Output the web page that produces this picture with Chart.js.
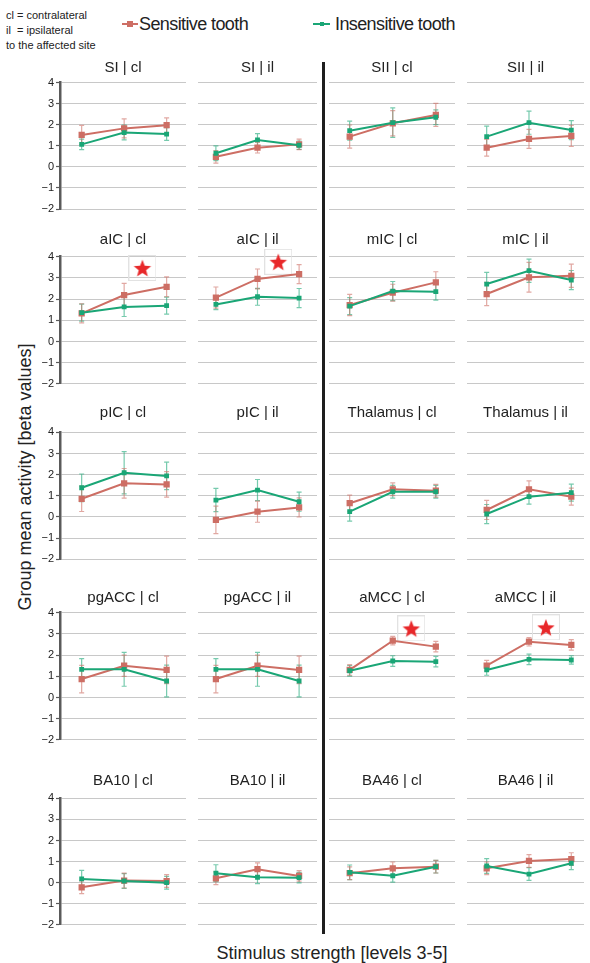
<!DOCTYPE html>
<html lang="en">
<head>
<meta charset="UTF-8">
<title>Group mean activity by stimulus strength</title>
<script src="https://cdn.jsdelivr.net/npm/chart.js"></script>
<style>
  body {
    margin: 0;
    width: 590px;
    height: 963px;
    position: relative;
    overflow: hidden;
    background: #fff;
    color: #222;
    font-family: "Liberation Sans", Arial, sans-serif;
  }
  canvas { position: absolute; }
  .note { position: absolute; left: 6px; top: 8px; font-size: 11px; line-height: 15px; }
  .legend { position: absolute; top: 13px; font-size: 18px; line-height: 22px; letter-spacing: -0.6px; white-space: nowrap; }
  .mark { position: absolute; top: 23px; height: 2px; }
  .mark i { position: absolute; left: 50%; top: 50%; transform: translate(-50%, -50%); }
  .divider { position: absolute; left: 321.5px; top: 62px; width: 3px; height: 872px; background: #1e1e1e; z-index: 5; }
  .ytitle { position: absolute; left: 25px; top: 477px; transform: translate(-50%, -50%) rotate(-90deg); font-size: 18px; white-space: nowrap; }
  .xtitle { position: absolute; left: 332px; top: 953px; transform: translate(-50%, -50%); font-size: 18px; white-space: nowrap; }
</style>
</head>
<body>
  <div class="note">cl = contralateral<br>il &nbsp;= ipsilateral<br>to the affected site</div>

  <div class="mark" style="left:122px;width:16px;background:#cd6e64"><i style="width:6px;height:6px;background:#cd6e64"></i></div>
  <div class="legend" style="left:139px">Sensitive tooth</div>
  <div class="mark" style="left:313px;width:17px;background:#1aa676"><i style="width:4px;height:4px;background:#1aa676"></i></div>
  <div class="legend" style="left:335px">Insensitive tooth</div>

  <div class="divider"></div>
  <div class="ytitle">Group mean activity [beta values]</div>
  <div class="xtitle">Stimulus strength [levels 3-5]</div>

<script>
// data
const levels = [3, 4, 5];
const panelTitles = [
  'SI | cl', 'SI | il', 'SII | cl', 'SII | il',
  'aIC | cl', 'aIC | il', 'mIC | cl', 'mIC | il',
  'pIC | cl', 'pIC | il', 'Thalamus | cl', 'Thalamus | il',
  'pgACC | cl', 'pgACC | il', 'aMCC | cl', 'aMCC | il',
  'BA10 | cl', 'BA10 | il', 'BA46 | cl', 'BA46 | il'
];
const sensitive = [
  [1.52, 1.83, 1.98], [0.48, 0.91, 1.07], [1.44, 2.07, 2.47], [0.91, 1.33, 1.47],
  [1.33, 2.19, 2.58], [2.07, 2.95, 3.18], [1.72, 2.30, 2.79], [2.24, 3.03, 3.10],
  [0.86, 1.59, 1.54], [-0.14, 0.25, 0.45], [0.65, 1.31, 1.24], [0.33, 1.31, 0.96],
  [0.87, 1.50, 1.30], [0.87, 1.50, 1.30], [1.30, 2.68, 2.40], [1.50, 2.63, 2.48],
  [-0.22, 0.10, 0.08], [0.21, 0.64, 0.32], [0.45, 0.68, 0.76], [0.68, 1.03, 1.12]
];
const sensitiveErr = [
  [0.45, 0.45, 0.35], [0.30, 0.25, 0.25], [0.55, 0.60, 0.55], [0.40, 0.45, 0.50],
  [0.45, 0.55, 0.47], [0.50, 0.47, 0.45], [0.50, 0.40, 0.50], [0.55, 0.70, 0.55],
  [0.60, 0.70, 0.60], [0.65, 0.50, 0.45], [0.38, 0.30, 0.30], [0.45, 0.40, 0.40],
  [0.65, 0.50, 0.65], [0.65, 0.50, 0.65], [0.25, 0.20, 0.25], [0.25, 0.20, 0.25],
  [0.30, 0.35, 0.30], [0.30, 0.30, 0.25], [0.30, 0.30, 0.30], [0.30, 0.30, 0.30]
];
const insensitive = [
  [1.07, 1.63, 1.56], [0.65, 1.28, 1.03], [1.72, 2.10, 2.36], [1.44, 2.10, 1.75],
  [1.36, 1.63, 1.69], [1.75, 2.11, 2.05], [1.67, 2.38, 2.35], [2.71, 3.34, 2.90],
  [1.38, 2.09, 1.94], [0.80, 1.27, 0.72], [0.25, 1.19, 1.19], [0.14, 0.96, 1.15],
  [1.33, 1.33, 0.78], [1.33, 1.33, 0.78], [1.26, 1.72, 1.69], [1.30, 1.80, 1.77],
  [0.18, 0.08, 0.00], [0.45, 0.26, 0.24], [0.49, 0.33, 0.76], [0.79, 0.41, 0.92]
];
const insensitiveErr = [
  [0.25, 0.35, 0.30], [0.35, 0.30, 0.20], [0.45, 0.70, 0.35], [0.50, 0.55, 0.45],
  [0.40, 0.45, 0.40], [0.25, 0.40, 0.45], [0.40, 0.45, 0.40], [0.55, 0.55, 0.45],
  [0.65, 1.00, 0.65], [0.55, 0.50, 0.45], [0.45, 0.30, 0.30], [0.45, 0.35, 0.40],
  [0.50, 0.80, 0.75], [0.50, 0.80, 0.75], [0.25, 0.25, 0.25], [0.25, 0.25, 0.20],
  [0.40, 0.35, 0.30], [0.40, 0.30, 0.25], [0.35, 0.30, 0.30], [0.35, 0.30, 0.30]
];
// significant differences (star markers)
const starPanels = ['aIC | cl', 'aIC | il', 'aMCC | cl', 'aMCC | il'];
const starLevel = [4.43, 4.5, 4.43, 4.4];
const starValue = [3.47, 3.76, 3.26, 3.31];

// layout of the grid
const rowTop = [82.7, 256.7, 432.3, 612.7, 798.3];   // pixel of y = 4
const rowUnit = [21.05, 21.2, 21.17, 21.2, 21.1];   // pixels per unit
const titleGap = [14.5, 16.5, 19.5, 15, 17.5];
const colLeft = [0, 192, 323, 461];
const colRight = [192, 323, 461, 590];
const colMin = [2.49, 2.57, 2.52, 2.535];
const colMax = [5.456, 5.43, 5.445, 5.30];

const red = '#cd6e64';
const green = '#1aa676';

Chart.defaults.font.family = '"Liberation Sans", Arial, sans-serif';
Chart.defaults.color = '#222';

function makeStar() {
  const c = document.createElement('canvas');
  c.width = 28; c.height = 26;
  const g = c.getContext('2d');
  g.strokeStyle = '#e2e2e2';
  g.lineWidth = 1;
  g.strokeRect(0.5, 0.5, 27, 25);
  g.fillStyle = '#e8282a';
  g.beginPath();
  for (let k = 0; k < 10; k++) {
    const r = k % 2 ? 3.9 : 9.2;
    const a = -Math.PI / 2 + k * Math.PI / 5;
    g.lineTo(14 + r * Math.cos(a), 14 + r * Math.sin(a));
  }
  g.closePath();
  g.fill();
  return c;
}
const starImg = makeStar();

// vertical error bars drawn from the y scale
const errorBars = {
  id: 'errorBars',
  beforeDatasetsDraw(chart) {
    const ctx = chart.ctx, y = chart.scales.y;
    chart.data.datasets.forEach((ds, i) => {
      if (!ds.errors) return;
      const meta = chart.getDatasetMeta(i);
      ctx.save();
      ctx.strokeStyle = ds.errorColor;
      ctx.lineWidth = 1.2;
      meta.data.forEach((pt, j) => {
        const v = ds.data[j].y, e = ds.errors[j];
        const top = y.getPixelForValue(v + e), bot = y.getPixelForValue(v - e);
        ctx.beginPath();
        ctx.moveTo(pt.x, top); ctx.lineTo(pt.x, bot);
        ctx.moveTo(pt.x - 2.5, top); ctx.lineTo(pt.x + 2.5, top);
        ctx.moveTo(pt.x - 2.5, bot); ctx.lineTo(pt.x + 2.5, bot);
        ctx.stroke();
      });
      ctx.restore();
    });
  }
};

panelTitles.forEach((title, p) => {
  const row = Math.floor(p / 4), col = p % 4;
  const top = Math.round(rowTop[row] - 9 - titleGap[row]);
  const padTitle = rowTop[row] - top - 18;
  const areaH = 6 * rowUnit[row];
  const height = Math.ceil(18 + padTitle + areaH + 12);

  const canvas = document.createElement('canvas');
  canvas.width = colRight[col] - colLeft[col];
  canvas.height = height;
  canvas.style.left = colLeft[col] + 'px';
  canvas.style.top = top + 'px';
  document.body.appendChild(canvas);

  const datasets = [
    {
      data: levels.map((l, i) => ({ x: l, y: insensitive[p][i] })),
      errors: insensitiveErr[p],
      errorColor: 'rgba(26,166,118,0.6)',
      borderColor: green,
      backgroundColor: green,
      borderWidth: 2,
      pointStyle: 'rect',
      pointRadius: 2
    },
    {
      data: levels.map((l, i) => ({ x: l, y: sensitive[p][i] })),
      errors: sensitiveErr[p],
      errorColor: 'rgba(205,110,100,0.6)',
      borderColor: red,
      backgroundColor: red,
      borderWidth: 2,
      pointStyle: 'rect',
      pointRadius: 3
    }
  ];
  const s = starPanels.indexOf(title);
  if (s >= 0) {
    datasets.push({
      data: [{ x: starLevel[s], y: starValue[s] }],
      showLine: false,
      pointStyle: starImg,
      clip: false
    });
  }

  new Chart(canvas.getContext('2d'), {
    type: 'line',
    data: { datasets: datasets },
    options: {
      responsive: false,
      animation: false,
      events: [],
      layout: { padding: { top: 0, left: 0, right: 0, bottom: height - (18 + padTitle + areaH) } },
      elements: { line: { tension: 0 } },
      plugins: {
        legend: { display: false },
        tooltip: { enabled: false },
        title: {
          display: true,
          text: title,
          fullSize: false,
          font: { size: 15, weight: 'normal', lineHeight: 1.2 },
          color: '#222',
          padding: { top: 0, bottom: padTitle }
        }
      },
      scales: {
        x: { type: 'linear', display: false, min: colMin[col], max: colMax[col] },
        y: {
          min: -2,
          max: 4,
          afterFit: (sc) => { sc.width = col === 0 ? 60 : 0; },
          border: { display: col === 0, color: '#5a5a5a', width: 2.5 },
          grid: {
            color: '#c8c8c8',
            borderDash: [2, 2],
            drawTicks: col === 0,
            tickLength: 4,
            tickColor: '#5a5a5a',
            tickBorderDash: [],
            tickWidth: 1.2
          },
          ticks: {
            display: col === 0,
            stepSize: 1,
            padding: 2,
            font: { size: 11 },
            color: '#222',
            callback: (v) => (v < 0 ? '\u2212' + Math.abs(v) : v)
          }
        }
      }
    },
    plugins: [errorBars]
  });
});
</script>
</body>
</html>
